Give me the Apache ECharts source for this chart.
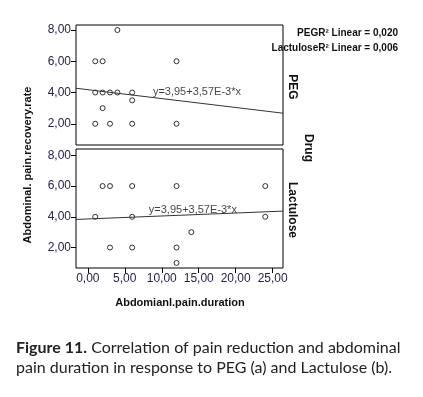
<!DOCTYPE html>
<html><head><meta charset="utf-8">
<script src="https://cdn.jsdelivr.net/npm/echarts@6/dist/echarts.min.js"></script>
<style>html,body{margin:0;padding:0;background:#fff}#c{width:423px;height:397px}</style>
</head><body><div id="c"></div>
<script>
// ---- data ----
const pegX = [4, 1, 2, 12, 1, 2, 3, 4, 6, 6, 2, 1, 3, 6, 12];
const pegY = [8, 6, 6, 6, 4, 4, 4, 4, 4, 3.5, 3, 2, 2, 2, 2];
const lacX = [2, 3, 6, 12, 24, 1, 6, 24, 14, 3, 6, 12, 12];
const lacY = [6, 6, 6, 6, 6, 4, 4, 4, 3, 2, 2, 2, 1];
const pegLine = [4.18, -0.057];   // drawn line: intercept, slope
const lacLine = [3.86, 0.0193];
const xTicks = [0, 5, 10, 15, 20, 25];
const yTicks = [2, 4, 6, 8];
const eqLabel = 'y=3,95+3,57E-3*x';
const r2Labels = ['PEGR\u00b2 Linear = 0,020', 'LactuloseR\u00b2 Linear = 0,006'];
const panelNames = ['PEG', 'Lactulose'];

const X_MIN = -1.6, X_MAX = 26.4;
const pts = (xs, ys) => xs.map((x, i) => [x, ys[i]]);
const line = (c) => [[X_MIN, c[0] + c[1] * X_MIN], [X_MAX, c[0] + c[1] * X_MAX]];
const fmt = v => v.toFixed(2).replace('.', ',');
const NARROW = '"Liberation Sans Narrow","Arial Narrow","Liberation Sans",sans-serif';
const lblColor = '#23234a';

const grids = [
  {left: 76, top: 25, width: 207, height: 120, show: true, borderColor: '#000', borderWidth: 1},
  {left: 76, top: 149, width: 207, height: 119, show: true, borderColor: '#000', borderWidth: 1}
];
const xAxis = [0, 1].map(i => ({
  type: 'value', gridIndex: i, min: X_MIN, max: X_MAX, position: 'bottom',
  splitLine: {show: false}, axisLine: {show: false, onZero: false},
  axisTick: {show: i === 1, length: 5, lineStyle: {color: '#000'}, customValues: xTicks},
  axisLabel: {show: i === 1, customValues: xTicks, formatter: fmt, color: lblColor,
    fontFamily: NARROW, fontSize: 12, margin: 5}
}));
const yAxis = [[0.64, 8.32], [0.67, 8.41]].map((r, i) => ({
  type: 'value', gridIndex: i, min: r[0], max: r[1], position: 'left',
  splitLine: {show: false}, axisLine: {show: false, onZero: false},
  axisTick: {show: true, length: 5, lineStyle: {color: '#000'}, customValues: yTicks},
  axisLabel: {customValues: yTicks, formatter: fmt, color: lblColor,
    fontFamily: NARROW, fontSize: 12, margin: 5}
}));

const scatter = (data, i) => ({
  type: 'scatter', xAxisIndex: i, yAxisIndex: i, data: data,
  symbol: 'circle', symbolSize: 5, silent: true,
  itemStyle: {color: '#fff', borderColor: '#000', borderWidth: 1}
});
const reg = (c, i) => ({
  type: 'line', xAxisIndex: i, yAxisIndex: i, data: line(c), symbol: 'none', silent: true,
  lineStyle: {color: '#333', width: 1}
});
const eq = (pos, i) => ({
  type: 'scatter', xAxisIndex: i, yAxisIndex: i, data: [pos], symbolSize: 0, silent: true,
  label: {show: true, position: 'right', distance: 0, formatter: eqLabel,
    fontFamily: NARROW, fontSize: 11, color: '#111'}
});

const opt = {
  animation: false,
  grid: grids, xAxis: xAxis, yAxis: yAxis,
  series: [
    scatter(pts(pegX, pegY), 0), reg(pegLine, 0), eq([8.8, 4.02], 0),
    scatter(pts(lacX, lacY), 1), reg(lacLine, 1), eq([8.25, 4.45], 1)
  ],
  graphic: [
    {type: 'text', right: 25, top: 28, style: {text: r2Labels[0], font: 'bold 10px ' + NARROW, fill: '#111', textAlign: 'right'}},
    {type: 'text', right: 25, top: 43, style: {text: r2Labels[1], font: 'bold 10px ' + NARROW, fill: '#111', textAlign: 'right'}},
    {type: 'text', x: 292, y: 87, rotation: -Math.PI / 2, style: {text: panelNames[0], font: 'bold 12px ' + NARROW, fill: '#111', align: 'center', verticalAlign: 'middle'}},
    {type: 'text', x: 292, y: 210, rotation: -Math.PI / 2, style: {text: panelNames[1], font: 'bold 12px ' + NARROW, fill: '#111', align: 'center', verticalAlign: 'middle'}},
    {type: 'text', x: 308, y: 148, rotation: -Math.PI / 2, style: {text: 'Drug', font: 'bold 12px ' + NARROW, fill: '#111', align: 'center', verticalAlign: 'middle'}},
    {type: 'text', x: 28, y: 165, rotation: Math.PI / 2, style: {text: 'Abdominal. pain.recovery.rate', font: 'bold 11px ' + NARROW, fill: '#111', align: 'center', verticalAlign: 'middle'}},
    {type: 'text', x: 180, y: 303, style: {text: 'Abdomianl.pain.duration', font: 'bold 11px ' + NARROW, fill: '#111', align: 'center', verticalAlign: 'middle'}},
    {type: 'text', x: 16, y: 358, style: {
      text: '{b|Figure 11.} Correlation of pain reduction and abdominal\npain duration in response to PEG (a) and Lactulose (b).',
      font: '16px Lato, "Open Sans", sans-serif', fill: '#222', verticalAlign: 'middle', lineHeight: 20.6,
      rich: {b: {fontWeight: 'bold', fontSize: 16, fontFamily: 'Lato, "Open Sans", sans-serif', fill: '#222', lineHeight: 20.6}}
    }}
  ]
};
echarts.init(document.getElementById('c'), null, {renderer: 'canvas'}).setOption(opt);
</script></body></html>
